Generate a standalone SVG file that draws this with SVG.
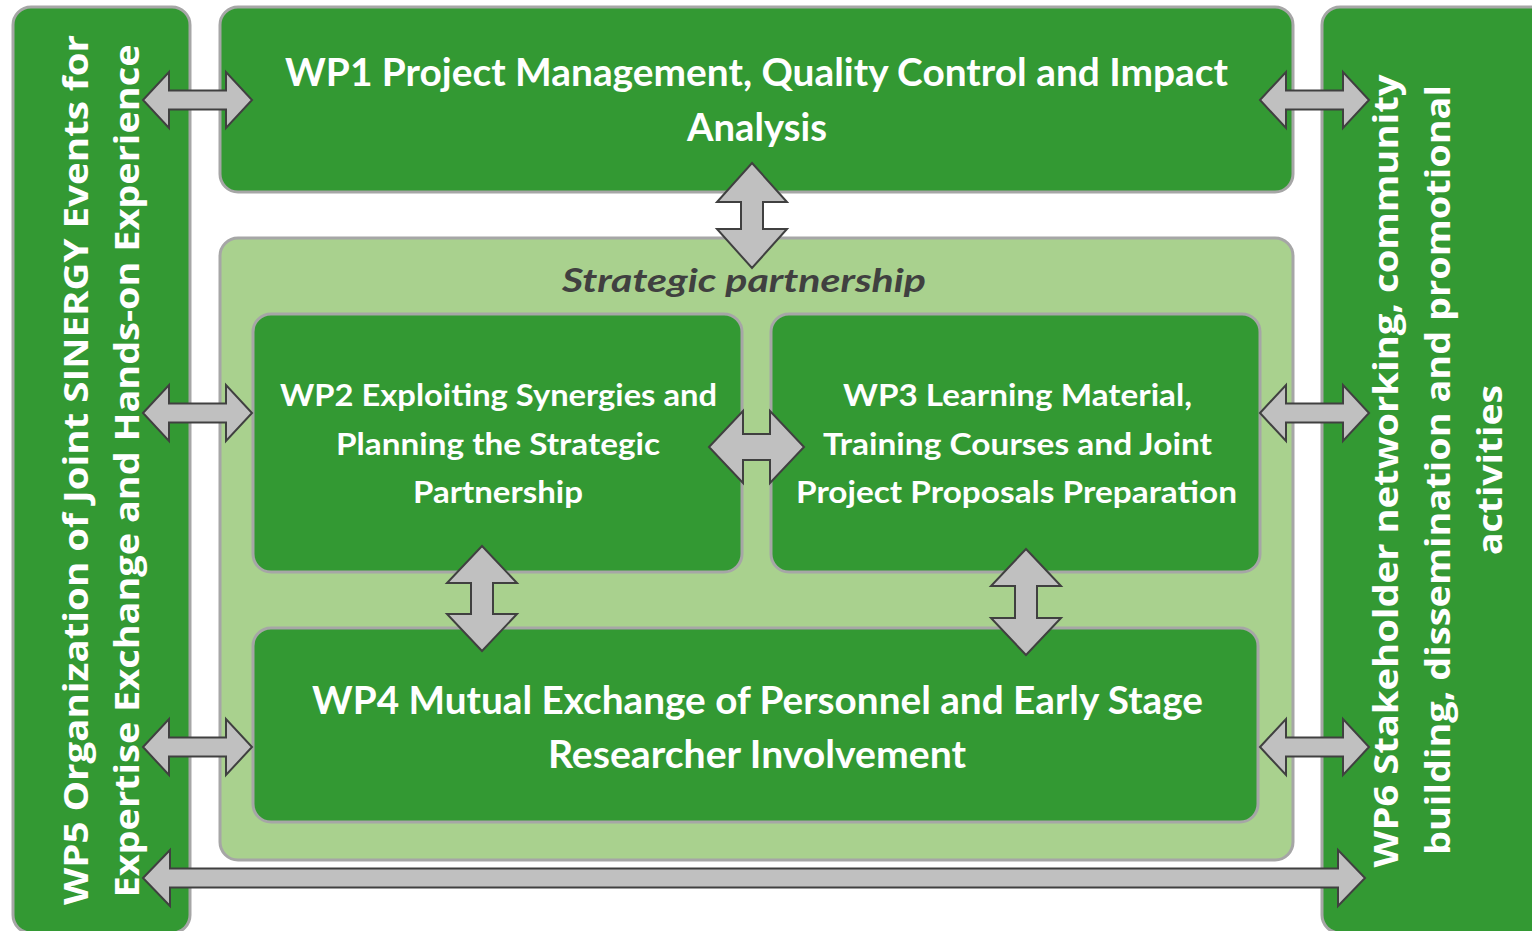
<svg xmlns="http://www.w3.org/2000/svg" xmlns:xlink="http://www.w3.org/1999/xlink" width="1532" height="931" viewBox="0 0 1532 931">
  <style>
    .box { fill: #339933; stroke: #a6a6a6; stroke-width: 3; }
    .sp { fill: #a9d18e; stroke: #a6a6a6; stroke-width: 3; }
    .t { font-family: Lato, "Liberation Sans", sans-serif; font-weight: bold; fill: #ffffff; text-anchor: middle; }
    .big { font-size: 39px; }
    .mid { font-size: 31px; }
    .rot { font-family: "Open Sans", "Liberation Sans", sans-serif; font-weight: bold; font-size: 34px; fill: #ffffff; text-anchor: middle; }
    .spt { font-family: Lato, "Liberation Sans", sans-serif; font-weight: bold; font-style: italic; font-size: 33px; fill: #404040; text-anchor: middle; }
    .arr { fill: #c0c0c0; stroke: #404040; stroke-width: 2; stroke-linejoin: miter; }
  </style>
  <defs>
    <polygon id="harrow" points="-54.5,0 -28.5,-28 -28.5,-9.5 28.5,-9.5 28.5,-28 54.5,0 28.5,28 28.5,9.5 -28.5,9.5 -28.5,28"/>
  </defs>
  <rect width="1532" height="931" fill="#ffffff"/>

  <g id="wp5">
    <rect class="box" x="13" y="7" width="177" height="926" rx="18"/>
    <text class="rot" transform="translate(88,470) rotate(-90)" textLength="870" lengthAdjust="spacingAndGlyphs">WP5 Organization of Joint SINERGY Events for</text>
    <text class="rot" transform="translate(139,471) rotate(-90)" textLength="853" lengthAdjust="spacingAndGlyphs">Expertise Exchange and Hands-on Experience</text>
  </g>

  <g id="wp6">
    <rect class="box" x="1322" y="7" width="240" height="926" rx="18"/>
    <text class="rot" transform="translate(1398,471) rotate(-90)" textLength="793" lengthAdjust="spacingAndGlyphs">WP6 Stakeholder networking, community</text>
    <text class="rot" transform="translate(1450,470) rotate(-90)" textLength="770" lengthAdjust="spacingAndGlyphs">building, dissemination and promotional</text>
    <text class="rot" transform="translate(1502,470) rotate(-90)" textLength="170" lengthAdjust="spacingAndGlyphs">activities</text>
  </g>

  <g id="wp1">
    <rect class="box" x="220" y="7" width="1073" height="185" rx="18"/>
    <text class="t big" x="756.5" y="86" textLength="943" lengthAdjust="spacingAndGlyphs">WP1 Project Management, Quality Control and Impact</text>
    <text class="t big" x="757" y="141" textLength="140" lengthAdjust="spacingAndGlyphs">Analysis</text>
  </g>

  <g id="strategic-partnership">
    <rect class="sp" x="220" y="238" width="1073" height="622" rx="18"/>
    <text class="spt" x="744" y="292" textLength="364" lengthAdjust="spacingAndGlyphs">Strategic partnership</text>
  </g>

  <g id="wp2">
    <rect class="box" x="253" y="314" width="489" height="258" rx="18"/>
    <text class="t mid" x="498.5" y="406" textLength="437" lengthAdjust="spacingAndGlyphs">WP2 Exploiting Synergies and</text>
    <text class="t mid" x="498" y="455" textLength="324" lengthAdjust="spacingAndGlyphs">Planning the Strategic</text>
    <text class="t mid" x="498" y="503" textLength="170" lengthAdjust="spacingAndGlyphs">Partnership</text>
  </g>

  <g id="wp3">
    <rect class="box" x="771" y="314" width="489" height="258" rx="18"/>
    <text class="t mid" x="1017.5" y="406" textLength="349" lengthAdjust="spacingAndGlyphs">WP3 Learning Material,</text>
    <text class="t mid" x="1017.5" y="455" textLength="389" lengthAdjust="spacingAndGlyphs">Training Courses and Joint</text>
    <text class="t mid" x="1016.5" y="503" textLength="441" lengthAdjust="spacingAndGlyphs">Project Proposals Preparation</text>
  </g>

  <g id="wp4">
    <rect class="box" x="253" y="628" width="1005" height="194" rx="18"/>
    <text class="t big" x="757.5" y="714" textLength="891" lengthAdjust="spacingAndGlyphs">WP4 Mutual Exchange of Personnel and Early Stage</text>
    <text class="t big" x="757" y="768" textLength="418" lengthAdjust="spacingAndGlyphs">Researcher Involvement</text>
  </g>

  <g id="connectors">
    <use xlink:href="#harrow" class="arr" transform="translate(197.5,100)"/>
    <use xlink:href="#harrow" class="arr" transform="translate(197.5,413)"/>
    <use xlink:href="#harrow" class="arr" transform="translate(197.5,747)"/>
    <use xlink:href="#harrow" class="arr" transform="translate(1314.5,100)"/>
    <use xlink:href="#harrow" class="arr" transform="translate(1314.5,413)"/>
    <use xlink:href="#harrow" class="arr" transform="translate(1314.5,747)"/>
    <polygon class="arr" points="143,878 170,850 170,868.5 1338,868.5 1338,850 1365,878 1338,906 1338,887.5 170,887.5 170,906"/>
    <polygon class="arr" points="752,163 787,202 763,202 763,229 787,229 752,268 717,229 741,229 741,202 717,202"/>
    <polygon class="arr" points="709,447 743,411 743,434 770,434 770,411 804,447 770,483 770,460 743,460 743,483"/>
    <polygon class="arr" points="482,546 517,583 493,583 493,614 517,614 482,651 447,614 471,614 471,583 447,583"/>
    <polygon class="arr" points="1026,549 1061,586 1037,586 1037,618 1061,618 1026,655 991,618 1015,618 1015,586 991,586"/>
  </g>
</svg>
